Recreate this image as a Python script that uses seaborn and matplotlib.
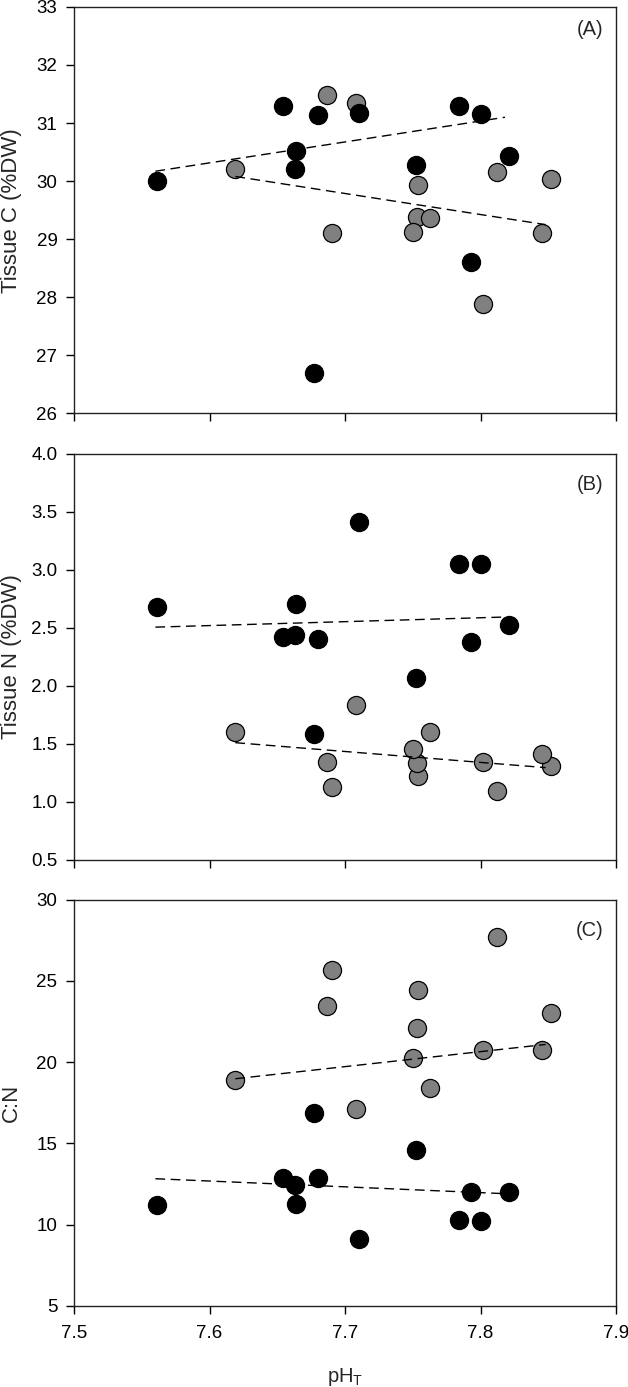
import matplotlib
matplotlib.use('Agg')
import matplotlib.pyplot as plt
import matplotlib.ticker as mticker
import seaborn as sns

# pH values of the two sample groups (black = group 1, grey = group 2)
ph_black = [7.561, 7.654, 7.664, 7.663, 7.680, 7.710, 7.677, 7.752, 7.784, 7.800, 7.793, 7.821]
ph_gray = [7.619, 7.687, 7.708, 7.690, 7.754, 7.753, 7.763, 7.750, 7.812, 7.852, 7.845, 7.802]

carbon_black = [30.00, 31.30, 30.51, 30.21, 31.13, 31.18, 26.69, 30.27, 31.30, 31.16, 28.60, 30.43]
carbon_gray = [30.20, 31.49, 31.34, 29.10, 29.93, 29.38, 29.36, 29.12, 30.15, 30.03, 29.11, 27.88]

nitrogen_black = [2.678, 2.419, 2.706, 2.434, 2.405, 3.409, 1.588, 2.069, 3.050, 3.050, 2.379, 2.523]
nitrogen_gray = [1.602, 1.344, 1.834, 1.131, 1.223, 1.332, 1.602, 1.453, 1.094, 1.309, 1.415, 1.344]

cn_black = [11.19, 12.89, 11.29, 12.42, 12.89, 9.10, 16.89, 14.57, 10.27, 10.21, 12.01, 12.01]
cn_gray = [18.91, 23.48, 17.13, 25.70, 24.41, 22.11, 18.42, 20.27, 27.68, 23.01, 20.72, 20.72]

# fitted trend lines, end points
trend_x_black = [7.560, 7.818]
trend_x_gray = [7.619, 7.848]
trend_c_black = [30.17, 31.10]
trend_c_gray = [30.08, 29.25]
trend_n_black = [2.505, 2.592]
trend_n_gray = [1.510, 1.295]
trend_cn_black = [12.83, 11.91]
trend_cn_gray = [18.98, 21.09]

x_ticks = [7.5, 7.6, 7.7, 7.8, 7.9]

sns.set_theme(style='ticks')
plt.rcParams['font.family'] = ['Liberation Sans', 'DejaVu Sans']
plt.rcParams['mathtext.fontset'] = 'custom'
plt.rcParams['mathtext.rm'] = 'Liberation Sans'
plt.rcParams['mathtext.it'] = 'Liberation Sans:italic'

fig = plt.figure(figsize=(6.28, 13.87), dpi=100)
left, width = 0.118, 0.863
bottoms = [0.702, 0.380, 0.0584]
height = 0.293

panels = [
    ('(A)', 'Tissue C (%DW)', carbon_gray, carbon_black, trend_c_gray, trend_c_black,
     (26, 33), 1, '%d', 0.945),
    ('(B)', 'Tissue N (%DW)', nitrogen_gray, nitrogen_black, trend_n_gray, trend_n_black,
     (0.5, 4.0), 0.5, '%.1f', 0.925),
    ('(C)', 'C:N', cn_gray, cn_black, trend_cn_gray, trend_cn_black,
     (5, 30), 5, '%d', 0.925),
]

for i, (tag, ylab, yg, yb, tg, tb, ylim, step, fmt, tag_y) in enumerate(panels):
    ax = fig.add_axes([left, bottoms[i], width, height])
    sns.scatterplot(x=ph_gray, y=yg, ax=ax, s=170, color='#808080',
                    edgecolor='black', linewidth=0.9, zorder=2)
    sns.scatterplot(x=ph_black, y=yb, ax=ax, s=170, color='black',
                    edgecolor='black', linewidth=0.9, zorder=3)
    sns.lineplot(x=trend_x_black, y=tb, ax=ax, color='black', lw=1.0,
                 linestyle=(0, (7, 4)), zorder=4)
    sns.lineplot(x=trend_x_gray, y=tg, ax=ax, color='black', lw=1.0,
                 linestyle=(0, (7, 4)), zorder=4)

    ax.set_xlim(7.5, 7.9)
    ax.set_ylim(*ylim)
    ax.set_xticks(x_ticks)
    ax.yaxis.set_major_locator(mticker.MultipleLocator(step))
    ax.yaxis.set_major_formatter(mticker.FormatStrFormatter(fmt))
    ax.tick_params(direction='out', length=6, width=1, colors='black',
                   labelsize=13.5, pad=6)
    ax.tick_params(axis='x', pad=8)
    for sp in ax.spines.values():
        sp.set_visible(True)
        sp.set_color('#222222')
        sp.set_linewidth(1.0)

    ax.set_ylabel(ylab, fontsize=16)
    ax.yaxis.set_label_coords(-0.097, 0.5)
    ax.text(0.952, tag_y, tag, transform=ax.transAxes, ha='center',
            va='center', fontsize=14.5)

    if i < 2:
        ax.set_xticklabels([])
        ax.set_xlabel('')
    else:
        ax.xaxis.set_major_formatter(mticker.FormatStrFormatter('%.1f'))
        ax.set_xlabel(r'pH$_{\mathrm{T}}$', fontsize=14.5, va='top')
        ax.xaxis.set_label_coords(0.5, -0.148)

fig.savefig('out.png', dpi=100)
